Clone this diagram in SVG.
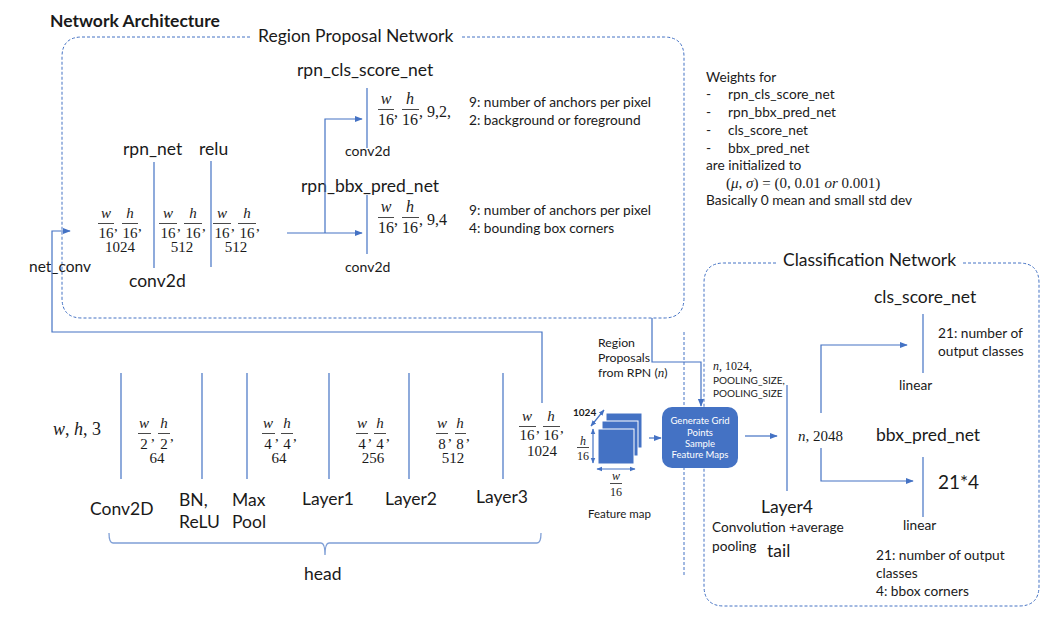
<svg xmlns="http://www.w3.org/2000/svg" width="1056" height="624" viewBox="0 0 1056 624">
<defs>
<marker id="ah" viewBox="0 0 10 10" refX="9" refY="5" markerWidth="8" markerHeight="8" orient="auto-start-reverse" markerUnits="userSpaceOnUse"><path d="M0,1 L10,5 L0,9 z" fill="#4472C4"/></marker>
<marker id="sh" viewBox="0 0 10 10" refX="9" refY="5" markerWidth="6" markerHeight="6" orient="auto-start-reverse" markerUnits="userSpaceOnUse"><path d="M0,1 L10,5 L0,9 z" fill="#4472C4"/></marker>
</defs>
<style>
.t{font-family:Lato,"Liberation Sans",sans-serif;fill:#1a1a1a}
.m{font-family:"Liberation Serif",serif;fill:#1a1a1a}
.i{font-style:italic}
.ln{stroke:#4472C4;stroke-width:1.2;fill:none}
.dash{stroke:#4472C4;stroke-width:1;fill:none;stroke-dasharray:3 2}
.bar{stroke:#1a1a1a;stroke-width:0.8}
.wt{font-family:Lato,"Liberation Sans",sans-serif;fill:#ffffff;font-size:9.5px}
.lb{font-size:17.5px}
.sm{font-size:13.7px}
</style>
<rect width="1056" height="624" fill="#ffffff"/>

<g id="title"><text class="t" x="50" y="27" font-size="17.5" font-weight="bold">Network Architecture</text></g>

<g id="rpn-box">
<path class="dash" d="M250,37 H82 Q62,37 62,57 V298 Q62,318 82,318 H664 Q684,318 684,298 V57 Q684,37 664,37 H460"/>
<text class="t lb" x="258" y="42">Region Proposal Network</text>
</g>
<g id="cls-box">
<path class="dash" d="M776,263 H724 Q704,263 704,283 V586 Q704,606 724,606 H1019 Q1039,606 1039,586 V283 Q1039,263 1019,263 H963"/>
<text class="t lb" x="783" y="266">Classification Network</text>
</g>
<path class="dash" d="M684,332 V575"/>

<g id="net-conv"><text class="t" x="29" y="272" font-size="15.5">net_conv</text></g>

<g id="rpn-input">
<text class="m i" x="106" y="218" font-size="15" text-anchor="middle">w</text><line class="bar" x1="98" y1="223.5" x2="114" y2="223.5"/><text class="m" x="106" y="238" font-size="15" text-anchor="middle">16</text><text class="m" x="114" y="231" font-size="15">,</text>
<text class="m i" x="130" y="218" font-size="15" text-anchor="middle">h</text><line class="bar" x1="122" y1="223.5" x2="138" y2="223.5"/><text class="m" x="130" y="238" font-size="15" text-anchor="middle">16</text><text class="m" x="138" y="231" font-size="15">,</text>
<text class="m" x="120" y="252" font-size="15" text-anchor="middle">1024</text>
</g>

<g id="rpn-net">
<text class="t lb" x="123" y="155">rpn_net</text>
<line class="ln" x1="154" y1="162" x2="154" y2="268"/>
<text class="t lb" x="129" y="287">conv2d</text>
<text class="m i" x="168" y="218" font-size="15" text-anchor="middle">w</text><line class="bar" x1="159" y1="223.5" x2="177" y2="223.5"/><text class="m" x="168" y="238" font-size="15" text-anchor="middle">16</text><text class="m" x="177" y="231" font-size="15">,</text>
<text class="m i" x="193" y="218" font-size="15" text-anchor="middle">h</text><line class="bar" x1="184" y1="223.5" x2="202" y2="223.5"/><text class="m" x="193" y="238" font-size="15" text-anchor="middle">16</text><text class="m" x="202" y="231" font-size="15">,</text>
<text class="m" x="182" y="252" font-size="15" text-anchor="middle">512</text>
</g>

<g id="relu">
<text class="t lb" x="199" y="155">relu</text>
<line class="ln" x1="211" y1="161" x2="211" y2="267"/>
<text class="m i" x="222" y="218" font-size="15" text-anchor="middle">w</text><line class="bar" x1="213" y1="223.5" x2="231" y2="223.5"/><text class="m" x="222" y="238" font-size="15" text-anchor="middle">16</text><text class="m" x="231" y="231" font-size="15">,</text>
<text class="m i" x="247" y="218" font-size="15" text-anchor="middle">h</text><line class="bar" x1="238" y1="223.5" x2="256" y2="223.5"/><text class="m" x="247" y="238" font-size="15" text-anchor="middle">16</text><text class="m" x="256" y="231" font-size="15">,</text>
<text class="m" x="236" y="252" font-size="15" text-anchor="middle">512</text>
</g>

<g id="rpn-cls-score">
<text class="t lb" x="297" y="76">rpn_cls_score_net</text>
<line class="ln" x1="367" y1="88" x2="367" y2="148"/>
<text class="t" x="345" y="156" font-size="14">conv2d</text>
<text class="m i" x="386" y="104" font-size="16" text-anchor="middle">w</text><line class="bar" x1="378" y1="109.5" x2="394" y2="109.5"/><text class="m" x="386" y="125" font-size="16" text-anchor="middle">16</text><text class="m" x="394" y="117" font-size="16">,</text>
<text class="m i" x="410" y="104" font-size="16" text-anchor="middle">h</text><line class="bar" x1="402" y1="109.5" x2="419" y2="109.5"/><text class="m" x="410" y="125" font-size="16" text-anchor="middle">16</text><text class="m" x="419" y="117" font-size="16">, 9,2,</text>
<text class="t sm" x="469" y="107">9: number of anchors per pixel</text>
<text class="t sm" x="469" y="125">2: background or foreground</text>
</g>

<g id="rpn-bbx-pred">
<text class="t lb" x="301" y="192">rpn_bbx_pred_net</text>
<line class="ln" x1="367" y1="195" x2="367" y2="254"/>
<text class="t" x="345" y="272" font-size="14">conv2d</text>
<text class="m i" x="386" y="212" font-size="16" text-anchor="middle">w</text><line class="bar" x1="378" y1="217.5" x2="394" y2="217.5"/><text class="m" x="386" y="233" font-size="16" text-anchor="middle">16</text><text class="m" x="394" y="225" font-size="16">,</text>
<text class="m i" x="410" y="212" font-size="16" text-anchor="middle">h</text><line class="bar" x1="402" y1="217.5" x2="419" y2="217.5"/><text class="m" x="410" y="233" font-size="16" text-anchor="middle">16</text><text class="m" x="419" y="225" font-size="16">, 9,4</text>
<text class="t sm" x="469" y="215">9: number of anchors per pixel</text>
<text class="t sm" x="469" y="233">4: bounding box corners</text>
</g>

<g id="weights-note" class="t sm">
<text x="706" y="82">Weights for</text>
<text x="706" y="99">-</text><text x="728" y="99">rpn_cls_score_net</text>
<text x="706" y="117">-</text><text x="728" y="117">rpn_bbx_pred_net</text>
<text x="706" y="135">-</text><text x="728" y="135">cls_score_net</text>
<text x="706" y="153">-</text><text x="728" y="153">bbx_pred_net</text>
<text x="706" y="170">are initialized to</text>
<text class="m" x="726" y="188" font-size="15">(<tspan font-style="italic">μ</tspan>, <tspan font-style="italic">σ</tspan>) = (0, 0.01 <tspan font-style="italic">or</tspan> 0.001)</text>
<text x="706" y="205">Basically 0 mean and small std dev</text>
</g>

<g id="input"><text class="m" x="53" y="435" font-size="18"><tspan font-style="italic">w</tspan>, <tspan font-style="italic">h</tspan>, 3</text></g>

<g id="conv2d">
<line class="ln" x1="121" y1="373" x2="121" y2="479"/>
<text class="m i" x="144" y="428" font-size="15" text-anchor="middle">w</text><line class="bar" x1="138" y1="433.5" x2="151" y2="433.5"/><text class="m" x="144" y="449" font-size="15" text-anchor="middle">2</text><text class="m" x="151" y="441" font-size="15">,</text>
<text class="m i" x="164" y="428" font-size="15" text-anchor="middle">h</text><line class="bar" x1="158" y1="433.5" x2="170" y2="433.5"/><text class="m" x="164" y="449" font-size="15" text-anchor="middle">2</text><text class="m" x="170" y="441" font-size="15">,</text>
<text class="m" x="157" y="463" font-size="15" text-anchor="middle">64</text>
<text class="t lb" x="90" y="515">Conv2D</text>
</g>
<g id="bn-relu">
<line class="ln" x1="202" y1="373" x2="202" y2="479"/>
<text class="t lb" x="179" y="506">BN,</text>
<text class="t lb" x="179" y="528">ReLU</text>
</g>
<g id="maxpool">
<line class="ln" x1="247" y1="373" x2="247" y2="479"/>
<text class="m i" x="268" y="428" font-size="15" text-anchor="middle">w</text><line class="bar" x1="262" y1="433.5" x2="275" y2="433.5"/><text class="m" x="268" y="449" font-size="15" text-anchor="middle">4</text><text class="m" x="275" y="441" font-size="15">,</text>
<text class="m i" x="287" y="428" font-size="15" text-anchor="middle">h</text><line class="bar" x1="281" y1="433.5" x2="293" y2="433.5"/><text class="m" x="287" y="449" font-size="15" text-anchor="middle">4</text><text class="m" x="293" y="441" font-size="15">,</text>
<text class="m" x="279" y="463" font-size="15" text-anchor="middle">64</text>
<text class="t lb" x="232" y="506">Max</text>
<text class="t lb" x="232" y="528">Pool</text>
</g>
<g id="layer1">
<line class="ln" x1="329" y1="373" x2="329" y2="479"/>
<text class="m i" x="362" y="428" font-size="15" text-anchor="middle">w</text><line class="bar" x1="356" y1="433.5" x2="368" y2="433.5"/><text class="m" x="362" y="449" font-size="15" text-anchor="middle">4</text><text class="m" x="368" y="441" font-size="15">,</text>
<text class="m i" x="380" y="428" font-size="15" text-anchor="middle">h</text><line class="bar" x1="374" y1="433.5" x2="386" y2="433.5"/><text class="m" x="380" y="449" font-size="15" text-anchor="middle">4</text><text class="m" x="386" y="441" font-size="15">,</text>
<text class="m" x="373" y="463" font-size="15" text-anchor="middle">256</text>
<text class="t lb" x="302" y="505">Layer1</text>
</g>
<g id="layer2">
<line class="ln" x1="409" y1="373" x2="409" y2="479"/>
<text class="m i" x="442" y="428" font-size="15" text-anchor="middle">w</text><line class="bar" x1="436" y1="433.5" x2="448" y2="433.5"/><text class="m" x="442" y="449" font-size="15" text-anchor="middle">8</text><text class="m" x="448" y="441" font-size="15">,</text>
<text class="m i" x="460" y="428" font-size="15" text-anchor="middle">h</text><line class="bar" x1="455" y1="433.5" x2="466" y2="433.5"/><text class="m" x="460" y="449" font-size="15" text-anchor="middle">8</text><text class="m" x="466" y="441" font-size="15">,</text>
<text class="m" x="453" y="463" font-size="15" text-anchor="middle">512</text>
<text class="t lb" x="385" y="505">Layer2</text>
</g>
<g id="layer3">
<line class="ln" x1="503" y1="373" x2="503" y2="479"/>
<text class="m i" x="527" y="421" font-size="15" text-anchor="middle">w</text><line class="bar" x1="519" y1="426.5" x2="536" y2="426.5"/><text class="m" x="527" y="440" font-size="15" text-anchor="middle">16</text><text class="m" x="536" y="433" font-size="15">,</text>
<text class="m i" x="551" y="421" font-size="15" text-anchor="middle">h</text><line class="bar" x1="543" y1="426.5" x2="560" y2="426.5"/><text class="m" x="551" y="440" font-size="15" text-anchor="middle">16</text><text class="m" x="560" y="433" font-size="15">,</text>
<text class="m" x="542" y="456" font-size="15" text-anchor="middle">1024</text>
<text class="t lb" x="476" y="503">Layer3</text>
</g>

<g id="head-brace">
<path d="M109,533 Q109,543 113,543 H321 Q325,543 325,555 Q325,543 329,543 H537 Q541,543 541,533" fill="none" stroke="#7F9FD6" stroke-width="1.3"/>
<text class="t lb" x="304" y="580">head</text>
</g>

<g id="feature-map">
<rect x="606" y="413" width="36" height="35" fill="#4472C4" stroke="#ffffff" stroke-width="1"/>
<rect x="602" y="421" width="36" height="35" fill="#4472C4" stroke="#ffffff" stroke-width="1"/>
<rect x="598" y="429" width="36" height="35" fill="#4472C4" stroke="#ffffff" stroke-width="1"/>
<line class="ln" x1="591" y1="426" x2="604" y2="410" stroke-width="1" marker-start="url(#sh)" marker-end="url(#sh)"/>
<line class="ln" x1="593" y1="429" x2="593" y2="463" stroke-width="1" marker-start="url(#sh)" marker-end="url(#sh)"/>
<line class="ln" x1="597" y1="469" x2="635" y2="469" stroke-width="1" marker-start="url(#sh)" marker-end="url(#sh)"/>
<text class="t" x="573" y="416" font-size="10" font-weight="bold">1024</text>
<text class="m i" x="583" y="445" font-size="12" text-anchor="middle">h</text><line class="bar" x1="577" y1="447.5" x2="589" y2="447.5"/><text class="m" x="583" y="460" font-size="12" text-anchor="middle">16</text>
<text class="m i" x="616" y="480" font-size="12" text-anchor="middle">w</text><line class="bar" x1="610" y1="483.5" x2="622" y2="483.5"/><text class="m" x="616" y="496" font-size="12" text-anchor="middle">16</text>
<text class="t" x="588" y="518" font-size="11.5">Feature map</text>
</g>

<g id="region-proposals">
<text class="t" x="598" y="347" font-size="12.3">Region</text>
<text class="t" x="598" y="362" font-size="12.3">Proposals</text>
<text class="t" x="598" y="377" font-size="12.3">from RPN (<tspan class="m i" font-size="13">n</tspan>)</text>
</g>

<g id="roi-sampler">
<rect x="662" y="407" width="76" height="61" rx="10" fill="#4472C4"/>
<text class="wt" x="700" y="424" text-anchor="middle">Generate Grid</text>
<text class="wt" x="700" y="436" text-anchor="middle">Points</text>
<text class="wt" x="700" y="447" text-anchor="middle">Sample</text>
<text class="wt" x="700" y="458" text-anchor="middle">Feature Maps</text>
</g>

<g id="layer4">
<text class="m" x="713" y="370" font-size="12"><tspan font-style="italic">n</tspan>, 1024,</text>
<text class="t" x="713" y="384" font-size="10">POOLING_SIZE,</text>
<text class="t" x="713" y="397" font-size="10">POOLING_SIZE</text>
<line class="ln" x1="787" y1="385" x2="787" y2="491"/>
<text class="m" x="798" y="441" font-size="15"><tspan font-style="italic">n</tspan>, 2048</text>
<text class="t lb" x="761" y="513">Layer4</text>
<text class="t sm" x="712" y="532">Convolution +average</text>
<text class="t sm" x="712" y="551">pooling</text>
<text class="t lb" x="767" y="557">tail</text>
</g>

<g id="cls-score">
<text class="t lb" x="874" y="303">cls_score_net</text>
<line class="ln" x1="923" y1="314" x2="923" y2="373"/>
<text class="t sm" x="938" y="338">21: number of</text>
<text class="t sm" x="938" y="356">output classes</text>
<text class="t sm" x="899" y="390">linear</text>
</g>

<g id="bbx-pred">
<text class="t lb" x="876" y="441">bbx_pred_net</text>
<line class="ln" x1="923" y1="457" x2="923" y2="517"/>
<text class="t" x="938" y="489" font-size="19">21*4</text>
<text class="t sm" x="903" y="530">linear</text>
<text class="t sm" x="876" y="560">21: number of output</text>
<text class="t sm" x="876" y="578">classes</text>
<text class="t sm" x="876" y="596">4: bbox corners</text>
</g>

<g id="connectors">
<path class="ln" d="M542,403 V332 H52 V231 H70" marker-end="url(#ah)"/>
<path class="ln" d="M287,233 H362" marker-end="url(#ah)"/>
<path class="ln" d="M325,233 V119 H362" marker-end="url(#ah)"/>
<path class="ln" d="M652,318 V362 H701 V406" marker-end="url(#ah)"/>
<path class="ln" d="M649,438 H661" marker-end="url(#ah)"/>
<path class="ln" d="M745,436 H777" marker-end="url(#ah)"/>
<path class="ln" d="M821,413 V345 H907" marker-end="url(#ah)"/>
<path class="ln" d="M821,448 V481 H913" marker-end="url(#ah)"/>
</g>
</svg>
